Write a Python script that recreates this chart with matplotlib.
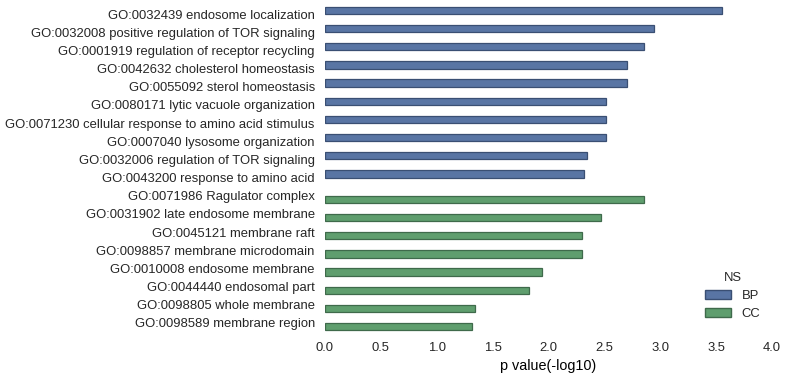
import numpy as np
import matplotlib.pyplot as plt
import seaborn as sns
from matplotlib.patches import Patch

plt.rcParams['font.family'] = ['Liberation Sans', 'DejaVu Sans']
plt.rcParams['text.color'] = '#262626'
plt.rcParams['xtick.color'] = '#262626'
plt.rcParams['ytick.color'] = '#262626'

# GO terms (top to bottom) with -log10 p values
terms_bp = ['GO:0032439 endosome localization',
            'GO:0032008 positive regulation of TOR signaling',
            'GO:0001919 regulation of receptor recycling',
            'GO:0042632 cholesterol homeostasis',
            'GO:0055092 sterol homeostasis',
            'GO:0080171 lytic vacuole organization',
            'GO:0071230 cellular response to amino acid stimulus',
            'GO:0007040 lysosome organization',
            'GO:0032006 regulation of TOR signaling',
            'GO:0043200 response to amino acid']
vals_bp = [3.555, 2.944, 2.855, 2.70, 2.70, 2.515, 2.515, 2.515, 2.345, 2.318]

terms_cc = ['GO:0071986 Ragulator complex',
            'GO:0031902 late endosome membrane',
            'GO:0045121 membrane raft',
            'GO:0098857 membrane microdomain',
            'GO:0010008 endosome membrane',
            'GO:0044440 endosomal part',
            'GO:0098805 whole membrane',
            'GO:0098589 membrane region']
vals_cc = [2.855, 2.47, 2.303, 2.303, 1.942, 1.825, 1.345, 1.315]

# seaborn barplot style: deep palette at 0.75 saturation
colors = {'BP': sns.desaturate('#4C72B0', 0.75), 'CC': sns.desaturate('#55A868', 0.75)}
edges = {'BP': '#3a4f73', 'CC': '#3f6a4b'}
# hue-dodged bars: BP sits in the upper half of its slot, CC in the lower
offsets = {'BP': -0.2, 'CC': 0.2}

terms = terms_bp + terms_cc
vals = vals_bp + vals_cc
ns = ['BP'] * len(terms_bp) + ['CC'] * len(terms_cc)
n = len(terms)
ypos = np.arange(n)

fs = 9.4
fig = plt.figure(figsize=(7.88, 3.79), dpi=100)
ax = fig.add_axes([325 / 788, 1 - 332 / 379, 447 / 788, 327 / 379])

ax.barh(ypos + np.array([offsets[k] for k in ns]), vals, height=0.4,
        color=[colors[k] for k in ns],
        edgecolor=[edges[k] for k in ns], linewidth=0.9)

ax.set_ylim(n - 0.5, -0.5)
ax.set_xlim(0, 4.0)
ax.set_xticks(np.arange(0, 4.01, 0.5))
ax.set_yticks(ypos)
ax.set_yticklabels(terms)
ax.tick_params(axis='y', length=0, labelsize=fs, pad=7.3)
ax.tick_params(axis='x', length=0, labelsize=fs, pad=7)
ax.set_xlabel('p value(-log10)', fontsize=10.4, labelpad=4)
for s in ax.spines.values():
    s.set_visible(False)

handles = [Patch(facecolor=colors[k], edgecolor=edges[k]) for k in ['BP', 'CC']]
leg = ax.legend(handles, ['BP', 'CC'], title='NS', loc='lower right',
                frameon=False, fontsize=fs, title_fontsize=fs,
                handlelength=2.0, labelspacing=0.45,
                bbox_to_anchor=(1.0, 0.0))

fig.savefig('out.png', dpi=100)
